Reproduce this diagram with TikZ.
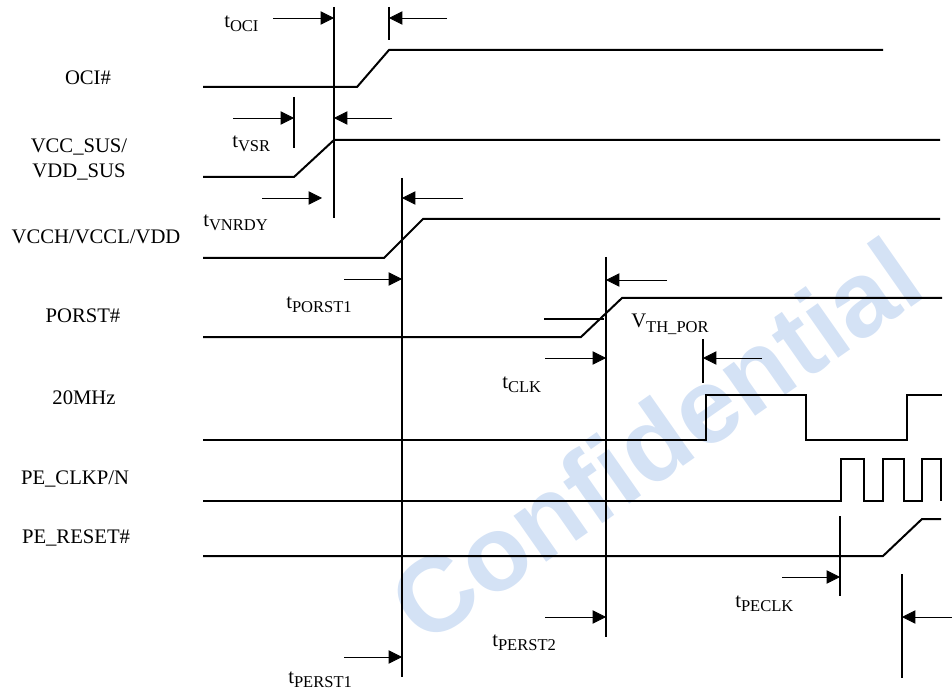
\documentclass[tikz,border=0pt]{standalone}
\usepackage{fontspec}
\setmainfont{Liberation Serif}
\newfontfamily\wmfont{Liberation Sans}
\usetikzlibrary{arrows.meta}
\definecolor{wmblue}{RGB}{212,226,245}
\newcommand{\tlab}[2]{#1\raisebox{-3pt}{\fontsize{12.4}{12.4}\selectfont #2}}
\begin{document}
\begin{tikzpicture}[x=0.75pt,y=-0.75pt,
  sig/.style={line width=1.5pt, line join=miter},
  vline/.style={line width=1.5pt},
  tarrow/.style={line width=0.6pt, -{Triangle[length=10pt,width=10pt]}},
  lab/.style={font=\fontsize{15.5}{18}\selectfont, anchor=base, inner sep=0pt},
  tl/.style={font=\fontsize{15.5}{18}\selectfont, anchor=base west, inner sep=0pt}]
\useasboundingbox (0,0) rectangle (952,691);
% watermark
\node[rotate=35, text=wmblue, font=\wmfont\bfseries\fontsize{80}{80}\selectfont, inner sep=0pt] (wmk) at (655,440) {Confidential};

% signal names
\node[lab] (nOCI) at (88,85) {OCI\#};
\node[lab] (nVCC1) at (79,153) {VCC\_SUS/};
\node[lab] (nVCC2) at (79,178) {VDD\_SUS};
\node[lab] (nVCCH) at (96,244) {VCCH/VCCL/VDD};
\node[lab] (nPORST) at (83,323) {PORST\#};
\node[lab] (n20M) at (84,404) {20MHz};
\node[lab] (nPECLK) at (75,484) {PE\_CLKP/N};
\node[lab] (nPERST) at (76,543) {PE\_RESET\#};

% waveforms
\draw[sig] (203,87) -- (357,87) -- (389,50) -- (883,50);
\draw[sig] (203,177) -- (294,177) -- (334,140) -- (940,140);
\draw[sig] (203,258) -- (384,258) -- (423,219) -- (940,219);
\draw[sig] (203,337) -- (581,337) -- (622,298) -- (942,298);
\draw[sig] (203,440) -- (706,440) -- (706,395) -- (806,395) -- (806,440) -- (907,440) -- (907,395) -- (942,395);
\draw[sig] (203,501) -- (841,501) -- (841,459) -- (864,459) -- (864,501) -- (883,501) -- (883,459) -- (904,459) -- (904,501) -- (922,501) -- (922,459) -- (941,459) -- (941,501);
\draw[sig] (203,556) -- (883,556) -- (922,519) -- (941,519);
% threshold
\draw[vline] (544,319) -- (604,319);

% marker lines
\coordinate (m1t) at (334,7);   \coordinate (m1b) at (334,218);
\coordinate (m2t) at (389,7);   \coordinate (m2b) at (389,40);
\coordinate (m3t) at (294,97);  \coordinate (m3b) at (294,148);
\coordinate (m4t) at (402,178); \coordinate (m4b) at (402,677);
\coordinate (m5t) at (606,257); \coordinate (m5b) at (606,637);
\coordinate (m6t) at (703,339); \coordinate (m6b) at (703,383);
\coordinate (m7t) at (840,516); \coordinate (m7b) at (840,596);
\coordinate (m8t) at (902,574); \coordinate (m8b) at (902,678);
\foreach \m in {1,...,8} \draw[vline] (m\m t) -- (m\m b);

% arrows
\coordinate (a1s) at (273,18);  \coordinate (a1e) at (334,18);
\coordinate (a2s) at (447,18);  \coordinate (a2e) at (389,18);
\coordinate (a3s) at (233,118); \coordinate (a3e) at (294,118);
\coordinate (a4s) at (392,118); \coordinate (a4e) at (334,118);
\coordinate (a5s) at (262,198); \coordinate (a5e) at (322,198);
\coordinate (a6s) at (463,198); \coordinate (a6e) at (402,198);
\coordinate (a7s) at (344,279); \coordinate (a7e) at (402,279);
\coordinate (a8s) at (667,280); \coordinate (a8e) at (606,280);
\coordinate (a9s) at (545,358); \coordinate (a9e) at (606,358);
\coordinate (a10s) at (762,358); \coordinate (a10e) at (703,358);
\coordinate (a11s) at (782,577); \coordinate (a11e) at (840,577);
\coordinate (a12s) at (545,617); \coordinate (a12e) at (606,617);
\coordinate (a13s) at (952,617); \coordinate (a13e) at (902,617);
\coordinate (a14s) at (344,657); \coordinate (a14e) at (402,657);
\foreach \a in {1,...,14} \draw[tarrow] (a\a s) -- (a\a e);

% timing labels
\node[tl] (tOCI) at (224,28) {\tlab{t}{OCI}};
\node[tl] (tVSR) at (232,148) {\tlab{t}{VSR}};
\node[tl] (tVNRDY) at (203,227) {\tlab{t}{VNRDY}};
\node[tl] (tPORST1) at (286,309) {\tlab{t}{PORST1}};
\node[tl] (vTH) at (631,328) {\tlab{V}{TH\_POR}};
\node[tl] (tCLK) at (502,388) {\tlab{t}{CLK}};
\node[tl] (tPECLK) at (735,607) {\tlab{t}{PECLK}};
\node[tl] (tPERST2) at (492,646) {\tlab{t}{PERST2}};
\node[tl] (tPERST1) at (288,683) {\tlab{t}{PERST1}};
\end{tikzpicture}
\end{document}
